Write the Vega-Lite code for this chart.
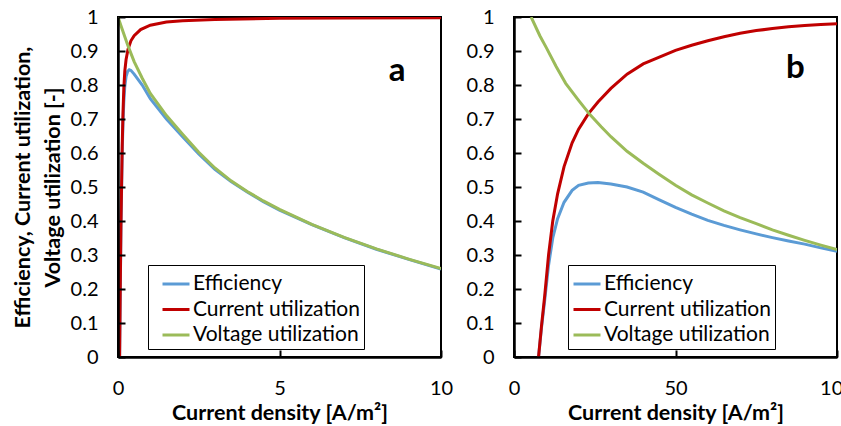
{
  "$schema": "https://vega.github.io/schema/vega-lite/v6.json",
  "background": "white",
  "padding": {"left": 11, "top": 6, "right": 0, "bottom": 0},
  "spacing": 11,
  "datasets": {
    "a": [
      {"j": 0.05, "u": 0, "series": "Efficiency"},
      {"j": 0.07, "u": 0.195, "series": "Efficiency"},
      {"j": 0.09, "u": 0.37, "series": "Efficiency"},
      {"j": 0.11, "u": 0.485, "series": "Efficiency"},
      {"j": 0.13, "u": 0.6, "series": "Efficiency"},
      {"j": 0.155, "u": 0.69, "series": "Efficiency"},
      {"j": 0.18, "u": 0.75, "series": "Efficiency"},
      {"j": 0.21, "u": 0.795, "series": "Efficiency"},
      {"j": 0.25, "u": 0.825, "series": "Efficiency"},
      {"j": 0.3, "u": 0.84, "series": "Efficiency"},
      {"j": 0.35, "u": 0.845, "series": "Efficiency"},
      {"j": 0.4, "u": 0.843, "series": "Efficiency"},
      {"j": 0.5, "u": 0.832, "series": "Efficiency"},
      {"j": 0.75, "u": 0.8, "series": "Efficiency"},
      {"j": 1, "u": 0.76, "series": "Efficiency"},
      {"j": 1.5, "u": 0.7, "series": "Efficiency"},
      {"j": 2, "u": 0.648, "series": "Efficiency"},
      {"j": 2.5, "u": 0.597, "series": "Efficiency"},
      {"j": 3, "u": 0.552, "series": "Efficiency"},
      {"j": 3.5, "u": 0.516, "series": "Efficiency"},
      {"j": 4, "u": 0.485, "series": "Efficiency"},
      {"j": 4.5, "u": 0.457, "series": "Efficiency"},
      {"j": 5, "u": 0.432, "series": "Efficiency"},
      {"j": 6, "u": 0.389, "series": "Efficiency"},
      {"j": 7, "u": 0.351, "series": "Efficiency"},
      {"j": 8, "u": 0.317, "series": "Efficiency"},
      {"j": 9, "u": 0.287, "series": "Efficiency"},
      {"j": 10, "u": 0.259, "series": "Efficiency"},
      {"j": 0.05, "u": 0, "series": "Current utilization"},
      {"j": 0.07, "u": 0.2, "series": "Current utilization"},
      {"j": 0.09, "u": 0.38, "series": "Current utilization"},
      {"j": 0.11, "u": 0.5, "series": "Current utilization"},
      {"j": 0.13, "u": 0.62, "series": "Current utilization"},
      {"j": 0.155, "u": 0.72, "series": "Current utilization"},
      {"j": 0.18, "u": 0.79, "series": "Current utilization"},
      {"j": 0.21, "u": 0.84, "series": "Current utilization"},
      {"j": 0.25, "u": 0.875, "series": "Current utilization"},
      {"j": 0.31, "u": 0.905, "series": "Current utilization"},
      {"j": 0.4, "u": 0.93, "series": "Current utilization"},
      {"j": 0.5, "u": 0.945, "series": "Current utilization"},
      {"j": 0.7, "u": 0.963, "series": "Current utilization"},
      {"j": 1, "u": 0.976, "series": "Current utilization"},
      {"j": 1.5, "u": 0.985, "series": "Current utilization"},
      {"j": 2, "u": 0.989, "series": "Current utilization"},
      {"j": 3, "u": 0.993, "series": "Current utilization"},
      {"j": 5, "u": 0.996, "series": "Current utilization"},
      {"j": 7, "u": 0.997, "series": "Current utilization"},
      {"j": 10, "u": 0.998, "series": "Current utilization"},
      {"j": 0, "u": 1, "series": "Voltage utilization"},
      {"j": 0.1, "u": 0.972, "series": "Voltage utilization"},
      {"j": 0.2, "u": 0.945, "series": "Voltage utilization"},
      {"j": 0.3, "u": 0.918, "series": "Voltage utilization"},
      {"j": 0.4, "u": 0.893, "series": "Voltage utilization"},
      {"j": 0.5, "u": 0.869, "series": "Voltage utilization"},
      {"j": 0.75, "u": 0.82, "series": "Voltage utilization"},
      {"j": 1, "u": 0.775, "series": "Voltage utilization"},
      {"j": 1.5, "u": 0.71, "series": "Voltage utilization"},
      {"j": 2, "u": 0.655, "series": "Voltage utilization"},
      {"j": 2.5, "u": 0.602, "series": "Voltage utilization"},
      {"j": 3, "u": 0.556, "series": "Voltage utilization"},
      {"j": 3.5, "u": 0.518, "series": "Voltage utilization"},
      {"j": 4, "u": 0.487, "series": "Voltage utilization"},
      {"j": 4.5, "u": 0.459, "series": "Voltage utilization"},
      {"j": 5, "u": 0.434, "series": "Voltage utilization"},
      {"j": 6, "u": 0.39, "series": "Voltage utilization"},
      {"j": 7, "u": 0.352, "series": "Voltage utilization"},
      {"j": 8, "u": 0.318, "series": "Voltage utilization"},
      {"j": 9, "u": 0.288, "series": "Voltage utilization"},
      {"j": 10, "u": 0.26, "series": "Voltage utilization"}
    ],
    "b": [
      {"j": 7.6, "u": 0, "series": "Efficiency"},
      {"j": 8.5, "u": 0.085, "series": "Efficiency"},
      {"j": 9.5, "u": 0.166, "series": "Efficiency"},
      {"j": 10.7, "u": 0.27, "series": "Efficiency"},
      {"j": 12, "u": 0.35, "series": "Efficiency"},
      {"j": 13.5, "u": 0.407, "series": "Efficiency"},
      {"j": 15.5, "u": 0.455, "series": "Efficiency"},
      {"j": 18, "u": 0.49, "series": "Efficiency"},
      {"j": 20, "u": 0.505, "series": "Efficiency"},
      {"j": 23, "u": 0.512, "series": "Efficiency"},
      {"j": 26, "u": 0.513, "series": "Efficiency"},
      {"j": 30, "u": 0.509, "series": "Efficiency"},
      {"j": 35, "u": 0.5, "series": "Efficiency"},
      {"j": 40, "u": 0.485, "series": "Efficiency"},
      {"j": 45, "u": 0.462, "series": "Efficiency"},
      {"j": 50, "u": 0.44, "series": "Efficiency"},
      {"j": 55, "u": 0.42, "series": "Efficiency"},
      {"j": 60, "u": 0.402, "series": "Efficiency"},
      {"j": 65, "u": 0.387, "series": "Efficiency"},
      {"j": 70, "u": 0.374, "series": "Efficiency"},
      {"j": 75, "u": 0.362, "series": "Efficiency"},
      {"j": 80, "u": 0.351, "series": "Efficiency"},
      {"j": 85, "u": 0.341, "series": "Efficiency"},
      {"j": 90, "u": 0.332, "series": "Efficiency"},
      {"j": 95, "u": 0.321, "series": "Efficiency"},
      {"j": 100, "u": 0.311, "series": "Efficiency"},
      {"j": 7.6, "u": 0, "series": "Current utilization"},
      {"j": 8.5, "u": 0.09, "series": "Current utilization"},
      {"j": 9.5, "u": 0.18, "series": "Current utilization"},
      {"j": 10.7, "u": 0.3, "series": "Current utilization"},
      {"j": 12, "u": 0.4, "series": "Current utilization"},
      {"j": 13.5, "u": 0.48, "series": "Current utilization"},
      {"j": 15.5, "u": 0.56, "series": "Current utilization"},
      {"j": 18, "u": 0.63, "series": "Current utilization"},
      {"j": 20, "u": 0.67, "series": "Current utilization"},
      {"j": 23, "u": 0.715, "series": "Current utilization"},
      {"j": 26, "u": 0.75, "series": "Current utilization"},
      {"j": 30, "u": 0.79, "series": "Current utilization"},
      {"j": 35, "u": 0.832, "series": "Current utilization"},
      {"j": 40, "u": 0.862, "series": "Current utilization"},
      {"j": 45, "u": 0.882, "series": "Current utilization"},
      {"j": 50, "u": 0.902, "series": "Current utilization"},
      {"j": 55, "u": 0.917, "series": "Current utilization"},
      {"j": 60, "u": 0.93, "series": "Current utilization"},
      {"j": 65, "u": 0.942, "series": "Current utilization"},
      {"j": 70, "u": 0.952, "series": "Current utilization"},
      {"j": 75, "u": 0.96, "series": "Current utilization"},
      {"j": 80, "u": 0.966, "series": "Current utilization"},
      {"j": 85, "u": 0.971, "series": "Current utilization"},
      {"j": 90, "u": 0.975, "series": "Current utilization"},
      {"j": 95, "u": 0.978, "series": "Current utilization"},
      {"j": 100, "u": 0.98, "series": "Current utilization"},
      {"j": 5.3, "u": 1, "series": "Voltage utilization"},
      {"j": 8, "u": 0.945, "series": "Voltage utilization"},
      {"j": 10, "u": 0.91, "series": "Voltage utilization"},
      {"j": 13, "u": 0.855, "series": "Voltage utilization"},
      {"j": 16, "u": 0.805, "series": "Voltage utilization"},
      {"j": 20, "u": 0.755, "series": "Voltage utilization"},
      {"j": 23.5, "u": 0.713, "series": "Voltage utilization"},
      {"j": 27, "u": 0.677, "series": "Voltage utilization"},
      {"j": 30, "u": 0.648, "series": "Voltage utilization"},
      {"j": 35, "u": 0.605, "series": "Voltage utilization"},
      {"j": 40, "u": 0.57, "series": "Voltage utilization"},
      {"j": 45, "u": 0.537, "series": "Voltage utilization"},
      {"j": 50, "u": 0.505, "series": "Voltage utilization"},
      {"j": 55, "u": 0.477, "series": "Voltage utilization"},
      {"j": 60, "u": 0.453, "series": "Voltage utilization"},
      {"j": 65, "u": 0.43, "series": "Voltage utilization"},
      {"j": 70, "u": 0.41, "series": "Voltage utilization"},
      {"j": 75, "u": 0.392, "series": "Voltage utilization"},
      {"j": 80, "u": 0.374, "series": "Voltage utilization"},
      {"j": 85, "u": 0.358, "series": "Voltage utilization"},
      {"j": 90, "u": 0.343, "series": "Voltage utilization"},
      {"j": 95, "u": 0.329, "series": "Voltage utilization"},
      {"j": 100, "u": 0.316, "series": "Voltage utilization"}
    ]
  },
  "hconcat": [
    {
      "width": 323,
      "height": 340,
      "layer": [
        {
          "data": {"name": "a"},
          "mark": {"type": "line", "strokeWidth": 3, "clip": true},
          "encoding": {
            "x": {
              "field": "j", "type": "quantitative",
              "scale": {"domain": [0, 10], "nice": false, "zero": false},
              "axis": {"values": [0, 5, 10], "tickCount": 3, "title": "Current density [A/m²]", "labelOverlap": false, "tickSize": -7, "zindex": 1}
            },
            "y": {
              "field": "u", "type": "quantitative",
              "scale": {"domain": [0, 1], "nice": false},
              "axis": {
                "values": [0, 0.1, 0.2, 0.3, 0.4, 0.5, 0.6, 0.7, 0.8, 0.9, 1],
                "tickCount": 11,
                "format": "~g",
                "labelOverlap": false,
                "tickSize": -7,
                "zindex": 1,
                "title": ["Efficiency, Current utilization,", "Voltage utilization [-]"]
              }
            },
            "color": {
              "field": "series", "type": "nominal",
              "scale": {
                "domain": ["Efficiency", "Current utilization", "Voltage utilization"],
                "range": ["#5B9BD5", "#C00000", "#9BBB59"]
              },
              "legend": {"orient": "none", "legendX": 30, "legendY": 248, "symbolOffset": 9}
            }
          }
        },
        {
          "data": {"values": [{"j": 8.64, "u": 0.812, "tag": "a"}]},
          "mark": {"type": "text", "fontSize": 33, "fontWeight": "bold", "align": "center", "baseline": "alphabetic", "color": "black"},
          "encoding": {
            "x": {"field": "j", "type": "quantitative"},
            "y": {"field": "u", "type": "quantitative"},
            "text": {"field": "tag"}
          }
        }
      ]
    },
    {
      "width": 323,
      "height": 340,
      "layer": [
        {
          "data": {"name": "b"},
          "mark": {"type": "line", "strokeWidth": 3, "clip": true},
          "encoding": {
            "x": {
              "field": "j", "type": "quantitative",
              "scale": {"domain": [0, 100], "nice": false, "zero": false},
              "axis": {"values": [0, 50, 100], "tickCount": 3, "title": "Current density [A/m²]", "labelOverlap": false, "tickSize": -7, "zindex": 1}
            },
            "y": {
              "field": "u", "type": "quantitative",
              "scale": {"domain": [0, 1], "nice": false},
              "axis": {
                "values": [0, 0.1, 0.2, 0.3, 0.4, 0.5, 0.6, 0.7, 0.8, 0.9, 1],
                "tickCount": 11,
                "format": "~g",
                "labelOverlap": false,
                "tickSize": -7,
                "zindex": 1,
                "title": null
              }
            },
            "color": {
              "field": "series", "type": "nominal",
              "scale": {
                "domain": ["Efficiency", "Current utilization", "Voltage utilization"],
                "range": ["#5B9BD5", "#C00000", "#9BBB59"]
              },
              "legend": {"orient": "none", "legendX": 54, "legendY": 248, "symbolOffset": 0}
            }
          }
        },
        {
          "data": {"values": [{"j": 87.1, "u": 0.82, "tag": "b"}]},
          "mark": {"type": "text", "fontSize": 33, "fontWeight": "bold", "align": "center", "baseline": "alphabetic", "color": "black"},
          "encoding": {
            "x": {"field": "j", "type": "quantitative"},
            "y": {"field": "u", "type": "quantitative"},
            "text": {"field": "tag"}
          }
        }
      ]
    }
  ],
  "resolve": {"scale": {"color": "independent"}, "legend": {"color": "independent"}},
  "config": {
    "font": "Lato",
    "view": {"stroke": "black", "strokeWidth": 2},
    "axis": {
      "grid": false,
      "ticks": true,
      "domainColor": "black",
      "domainWidth": 2.5,
      "tickColor": "black",
      "tickWidth": 2,
      "labelColor": "black",
      "labelFontSize": 20,
      "labelFont": "Lato",
      "titleColor": "black",
      "titleFont": "Lato",
      "titleFontSize": 21.5,
      "titleFontWeight": "bold"
    },
    "axisY": {"labelPadding": 27, "titleLineHeight": 30, "titlePadding": 6},
    "axisX": {"labelPadding": 28, "titlePadding": 4, "labelFlush": false},
    "legend": {
      "title": null,
      "symbolType": "stroke",
      "symbolStrokeWidth": 3,
      "symbolSize": 729,
      "labelFontSize": 21,
      "labelFont": "Lato",
      "labelColor": "black",
      "labelLimit": 400,
      "labelOffset": 2,
      "rowPadding": 0.5,
      "padding": 4,
      "strokeColor": "black"
    }
  }
}
